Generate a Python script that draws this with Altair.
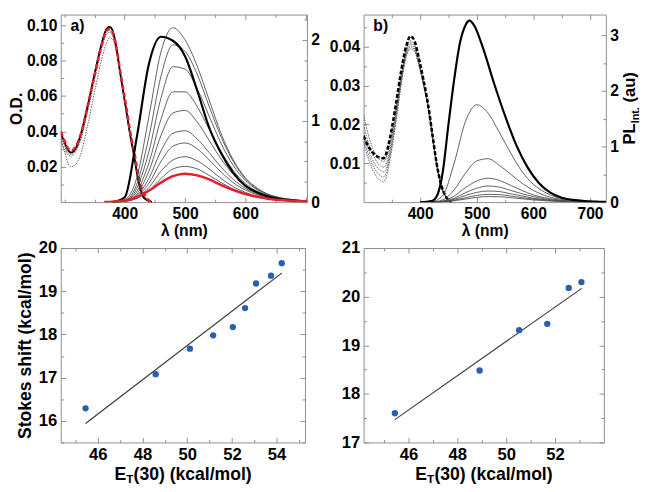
import altair as alt
import pandas as pd

FONT = "Liberation Sans"
FRAME = "#8c8c8c"
GREY = "#4d4d4d"
RED = "#e4202c"
BLUE = "#2b5fad"

# ---------------- panel a) absorption (O.D.) ----------------
a_abs_nm = [294, 300, 305, 311, 318, 326, 339, 351, 362, 370, 375, 380, 386, 393, 402, 409, 416, 421, 426, 433, 445]
a_abs_red = [0.040, 0.035, 0.031, 0.029, 0.031, 0.037, 0.055, 0.073, 0.089, 0.097, 0.098, 0.096, 0.088, 0.073, 0.055, 0.040, 0.028, 0.018, 0.010, 0.004, 0.000]
a_abs_black = [0.039, 0.034, 0.030, 0.028, 0.030, 0.037, 0.055, 0.074, 0.090, 0.098, 0.099, 0.097, 0.088, 0.072, 0.053, 0.038, 0.025, 0.015, 0.007, 0.002, 0.000]
a_abs_thin = [
    [0.036, 0.032, 0.028, 0.027, 0.029, 0.035, 0.053, 0.072, 0.088, 0.096, 0.097, 0.095, 0.087, 0.072, 0.054, 0.039, 0.027, 0.017, 0.009, 0.003, 0.000],
    [0.034, 0.030, 0.027, 0.026, 0.028, 0.034, 0.052, 0.071, 0.087, 0.095, 0.096, 0.094, 0.086, 0.071, 0.053, 0.038, 0.026, 0.016, 0.008, 0.003, 0.000],
    [0.036, 0.029, 0.023, 0.020, 0.021, 0.026, 0.044, 0.064, 0.081, 0.090, 0.093, 0.092, 0.085, 0.071, 0.053, 0.038, 0.026, 0.016, 0.008, 0.003, 0.000],
]

# ---------------- panel a) emission (PL) ----------------
a_pl_nm = [380, 400, 420, 440, 460, 480, 500, 520, 540, 560, 580, 600, 620, 640, 660, 680, 702]
a_pl_black = [0.0, 0.06, 0.80, 1.70, 2.04, 1.99, 1.80, 1.38, 0.92, 0.60, 0.36, 0.20, 0.12, 0.065, 0.035, 0.02, 0.01]
a_pl_thin = [
    [0.0, 0.03, 0.30, 1.05, 1.85, 2.15, 2.00, 1.68, 1.26, 0.84, 0.52, 0.30, 0.17, 0.09, 0.05, 0.03, 0.015],
    [0.0, 0.02, 0.22, 0.80, 1.55, 1.94, 1.86, 1.58, 1.18, 0.80, 0.50, 0.29, 0.16, 0.09, 0.05, 0.03, 0.015],
    [0.0, 0.02, 0.17, 0.62, 1.28, 1.67, 1.64, 1.40, 1.06, 0.72, 0.45, 0.27, 0.15, 0.08, 0.045, 0.025, 0.015],
    [0.0, 0.015, 0.13, 0.48, 1.02, 1.36, 1.36, 1.18, 0.90, 0.62, 0.39, 0.23, 0.13, 0.07, 0.04, 0.02, 0.012],
    [0.0, 0.012, 0.10, 0.38, 0.82, 1.10, 1.13, 0.99, 0.76, 0.53, 0.34, 0.20, 0.11, 0.065, 0.035, 0.02, 0.01],
    [0.0, 0.01, 0.08, 0.29, 0.63, 0.85, 0.88, 0.78, 0.61, 0.43, 0.28, 0.17, 0.10, 0.055, 0.03, 0.017, 0.01],
    [0.0, 0.01, 0.07, 0.23, 0.50, 0.69, 0.73, 0.66, 0.52, 0.37, 0.24, 0.15, 0.09, 0.05, 0.03, 0.016, 0.009],
    [0.0, 0.01, 0.055, 0.18, 0.38, 0.52, 0.56, 0.51, 0.41, 0.29, 0.19, 0.12, 0.07, 0.04, 0.025, 0.014, 0.008],
    [0.0, 0.01, 0.045, 0.14, 0.29, 0.41, 0.44, 0.41, 0.33, 0.24, 0.16, 0.10, 0.06, 0.035, 0.02, 0.012, 0.007],
]
a_pl_red_nm = [366, 380, 400, 420, 440, 460, 480, 500, 520, 540, 560, 580, 600, 620, 640, 660, 680, 702]
a_pl_red = [0.0, 0.005, 0.02, 0.06, 0.14, 0.24, 0.32, 0.35, 0.33, 0.28, 0.21, 0.15, 0.10, 0.065, 0.04, 0.025, 0.015, 0.01]

# ---------------- panel b) absorption ----------------
b_abs_nm = [300, 310, 320, 330, 335, 340, 347, 357, 366, 375, 383, 390, 397, 405, 414, 422, 429, 437, 445, 455]
b_abs_main = [0.0170, 0.0140, 0.0122, 0.0114, 0.0113, 0.0125, 0.0168, 0.0251, 0.0334, 0.0400, 0.0427, 0.0415, 0.0375, 0.0320, 0.0251, 0.0170, 0.0100, 0.0045, 0.0015, 0.0]
b_abs_thin = [
    [0.0226, 0.0165, 0.0127, 0.0108, 0.0105, 0.0113, 0.0155, 0.0240, 0.0325, 0.0392, 0.0415, 0.0405, 0.0368, 0.0315, 0.0248, 0.0168, 0.0098, 0.0044, 0.0015, 0.0],
    [0.0200, 0.0145, 0.0112, 0.0093, 0.0090, 0.0098, 0.0142, 0.0228, 0.0316, 0.0386, 0.0410, 0.0400, 0.0364, 0.0312, 0.0246, 0.0167, 0.0098, 0.0044, 0.0015, 0.0],
    [0.0180, 0.0130, 0.0098, 0.0081, 0.0078, 0.0087, 0.0132, 0.0220, 0.0310, 0.0382, 0.0405, 0.0396, 0.0361, 0.0310, 0.0244, 0.0166, 0.0097, 0.0043, 0.0014, 0.0],
    [0.0165, 0.0117, 0.0085, 0.0068, 0.0065, 0.0075, 0.0122, 0.0212, 0.0304, 0.0377, 0.0400, 0.0392, 0.0358, 0.0308, 0.0243, 0.0165, 0.0097, 0.0043, 0.0014, 0.0],
    [0.0155, 0.0105, 0.0072, 0.0055, 0.0052, 0.0063, 0.0112, 0.0204, 0.0298, 0.0372, 0.0395, 0.0388, 0.0355, 0.0306, 0.0242, 0.0165, 0.0097, 0.0043, 0.0014, 0.0],
]

# ---------------- panel b) emission ----------------
b_pl_nm = [400, 420, 430, 440, 450, 460, 470, 480, 487, 495, 510, 530, 550, 570, 590, 610, 630, 650, 670, 690, 710, 728]
b_pl_black = [0.0, 0.02, 0.12, 0.55, 1.40, 2.20, 2.85, 3.18, 3.26, 3.18, 2.80, 2.15, 1.55, 1.02, 0.62, 0.34, 0.17, 0.08, 0.04, 0.02, 0.01, 0.005]
b_pl_thin_nm = [420, 440, 460, 480, 500, 520, 540, 560, 580, 600, 620, 640, 660, 680, 700, 728]
b_pl_thin = [
    [0.0, 0.12, 0.70, 1.45, 1.75, 1.60, 1.25, 0.88, 0.55, 0.32, 0.18, 0.09, 0.05, 0.025, 0.012, 0.005],
    [0.0, 0.04, 0.22, 0.52, 0.74, 0.78, 0.66, 0.50, 0.34, 0.21, 0.12, 0.065, 0.035, 0.018, 0.009, 0.004],
    [0.0, 0.02, 0.11, 0.26, 0.38, 0.43, 0.39, 0.30, 0.21, 0.13, 0.08, 0.045, 0.025, 0.013, 0.007, 0.003],
    [0.0, 0.015, 0.07, 0.17, 0.25, 0.29, 0.27, 0.21, 0.15, 0.10, 0.06, 0.035, 0.02, 0.01, 0.006, 0.003],
    [0.0, 0.01, 0.05, 0.12, 0.175, 0.20, 0.19, 0.15, 0.11, 0.07, 0.045, 0.027, 0.015, 0.008, 0.005, 0.002],
    [0.0, 0.008, 0.035, 0.08, 0.12, 0.14, 0.135, 0.11, 0.08, 0.055, 0.035, 0.02, 0.012, 0.007, 0.004, 0.002],
    [0.0, 0.005, 0.025, 0.055, 0.085, 0.10, 0.097, 0.08, 0.06, 0.04, 0.026, 0.015, 0.009, 0.005, 0.003, 0.002],
]

# ---------------- Stokes shift vs ET(30) ----------------
c_et = [45.45, 48.59, 50.12, 51.16, 52.04, 52.59, 53.08, 53.75, 54.23]
c_ss = [16.29, 17.08, 17.67, 17.98, 18.17, 18.61, 19.18, 19.36, 19.65]
c_fit_et = [45.45, 54.23]
c_fit_ss = [15.94, 19.42]
d_et = [45.44, 48.91, 50.53, 51.68, 52.56, 53.08]
d_ss = [17.60, 18.48, 19.31, 19.44, 20.18, 20.30]
d_fit_et = [45.44, 53.09]
d_fit_ss = [17.47, 20.17]

# tick values
a_x_major = [400, 500, 600, 700]
a_x_minor = [300, 350, 450, 550, 650]
a_abs_major = [0.02, 0.04, 0.06, 0.08, 0.10]
a_abs_minor = [0.01, 0.03, 0.05, 0.07, 0.09]
a_pl_major = [0, 1, 2]
a_pl_minor = [0.25, 0.5, 0.75, 1.25, 1.5, 1.75, 2.25]
b_x_major = [400, 500, 600, 700]
b_x_minor = [350, 450, 550, 650]
b_abs_major = [0.01, 0.02, 0.03, 0.04]
b_abs_minor = [0.005, 0.015, 0.025, 0.035, 0.045]
b_pl_major = [0, 1, 2, 3]
b_pl_minor = [0.5, 1.5, 2.5]
c_x_major = [46, 48, 50, 52, 54]
c_x_minor = [45, 47, 49, 51, 53, 55]
c_y_major = [16, 17, 18, 19, 20]
c_y_minor = [15.5, 16.5, 17.5, 18.5, 19.5]
d_x_major = [46, 48, 50, 52]
d_x_minor = [45, 47, 49, 51, 53]
d_y_major = [17, 18, 19, 20, 21]
d_y_minor = [17.5, 18.5, 19.5, 20.5]

# domains
A_X = [294, 702]; A_ABS = [0, 0.106]; A_PL = [0, 2.313]
B_X = [300, 728]; B_ABS = [0, 0.0483]; B_PL = [0, 3.37]
C_X = [44.34, 55.27]; C_Y = [15.5, 20]
D_X = [44.16, 54.0]; D_Y = [17, 21]


def long_df(nm, series):
    rows = []
    for i, vals in enumerate(series):
        for x, v in zip(nm, vals):
            rows.append({"x": x, "y": v, "k": i})
    return pd.DataFrame(rows)


def sc(dom):
    return alt.Scale(domain=dom, nice=False, zero=False)


def lab_axis(orient, values, size, fmt=None, title=None, tsize=16, tpad=2):
    d = dict(orient=orient, values=values, ticks=False, tickSize=0, domain=False, grid=False,
             labelFontSize=size, labelFont=FONT, labelFontWeight="bold", labelColor="black",
             labelPadding=4, title=title, titleFont=FONT, titleFontSize=tsize,
             titleFontWeight="bold", titleColor="black", titlePadding=tpad)
    if fmt:
        d["format"] = fmt
    return alt.Axis(**d)


def lines(df, xdom, ydom, color, width, dash=None, xaxis=None, yaxis=None):
    mk = dict(color=color, strokeWidth=width, interpolate="monotone", clip=True)
    if dash:
        mk["strokeDash"] = dash
    return alt.Chart(df).mark_line(**mk).encode(
        x=alt.X("x:Q", scale=sc(xdom), axis=xaxis),
        y=alt.Y("y:Q", scale=sc(ydom), axis=yaxis),
        detail="k:N")


def tick_layer(xdom, ydom, xvals, yvals, size, xo, yo):
    df = pd.DataFrame({"x": [xdom[0]], "y": [ydom[0]]})

    def ax(o, vals):
        return alt.Axis(orient=o, values=vals, labels=False, domain=False, grid=False, title=None,
                        tickSize=size, tickColor=FRAME, tickWidth=1, offset=-size)
    return alt.Chart(df).mark_point(opacity=0).encode(
        x=alt.X("x:Q", scale=sc(xdom), axis=ax(xo, xvals)),
        y=alt.Y("y:Q", scale=sc(ydom), axis=ax(yo, yvals)))


def text_layer(s, x, y, size, angle=0):
    mk = dict(align="left", baseline="alphabetic", fontSize=size, font=FONT,
              fontWeight="bold", color="black")
    if angle:
        mk["angle"] = angle
    return alt.Chart(pd.DataFrame({"t": [s]})).mark_text(**mk).encode(
        text="t:N", x=alt.value(x), y=alt.value(y))


def four_ticks(xdom, ydl, ydr, xM, xm, ylM, ylm, yrM, yrm):
    return [
        tick_layer(xdom, ydl, xM, ylM, 5, "bottom", "left"),
        tick_layer(xdom, ydl, xm, ylm, 3, "bottom", "left"),
        tick_layer(xdom, ydr, xM, yrM, 5, "top", "right"),
        tick_layer(xdom, ydr, xm, yrm, 3, "top", "right"),
    ]


def finish(layers, w, h):
    return alt.layer(*layers).resolve_scale(x="independent", y="independent").resolve_axis(
        x="independent", y="independent").properties(width=w, height=h)


# ---------- panel a ----------
AW, AH = 252, 192
pa_layers = [
    lines(long_df(a_abs_nm, a_abs_thin), A_X, A_ABS, GREY, 0.9, dash=[1.5, 1.2]),
    lines(long_df(a_abs_nm, [a_abs_black]), A_X, A_ABS, "black", 1.8),
    lines(long_df(a_abs_nm, [a_abs_red]), A_X, A_ABS, RED, 2.6, dash=[5, 3],
          xaxis=lab_axis("bottom", [400, 500, 600], 16, title="λ (nm)", tsize=16, tpad=1),
          yaxis=lab_axis("left", a_abs_major, 16, fmt=".2f", title="O.D.", tsize=16, tpad=2)),
    lines(long_df(a_pl_nm, a_pl_thin), A_X, A_PL, GREY, 0.9),
    lines(long_df(a_pl_nm, [a_pl_black]), A_X, A_PL, "black", 2.2),
    lines(long_df(a_pl_red_nm, [a_pl_red]), A_X, A_PL, RED, 2.6,
          yaxis=lab_axis("right", a_pl_major, 16)),
] + four_ticks(A_X, A_ABS, A_PL, a_x_major, a_x_minor, a_abs_major, a_abs_minor, a_pl_major, a_pl_minor) + [
    text_layer("a)", 10, 17, 16),
]
pa = finish(pa_layers, AW, AH)

# ---------- panel b ----------
BW, BH = 248, 192
pb_layers = [
    lines(long_df(b_abs_nm, b_abs_thin), B_X, B_ABS, GREY, 0.9, dash=[1.5, 1.2]),
    lines(long_df(b_abs_nm, [b_abs_main]), B_X, B_ABS, "black", 2.6, dash=[4, 2],
          xaxis=lab_axis("bottom", b_x_major, 16, title="λ (nm)", tsize=16, tpad=1),
          yaxis=lab_axis("left", b_abs_major, 16, fmt=".2f")),
    lines(long_df(b_pl_thin_nm, b_pl_thin), B_X, B_PL, GREY, 0.9),
    lines(long_df(b_pl_nm, [b_pl_black]), B_X, B_PL, "black", 2.2,
          yaxis=lab_axis("right", b_pl_major, 16)),
] + four_ticks(B_X, B_ABS, B_PL, b_x_major, b_x_minor, b_abs_major, b_abs_minor, b_pl_major, b_pl_minor) + [
    text_layer("b)", 10, 17, 16),
    text_layer("PL", BW + 30, BH / 2 + 37, 17, angle=270),
    text_layer("Int.", BW + 34, BH / 2 + 15.3, 11, angle=270),
    text_layer("(au)", BW + 30, BH / 2 - 5.9, 17, angle=270),
]
pb = finish(pb_layers, BW, BH)


# ---------- scatter panels ----------
def scatter_panel(et, ss, fx, fy, xdom, ydom, xM, xm, yM, ym, w, h, ytitle):
    pts = alt.Chart(pd.DataFrame({"x": et, "y": ss})).mark_circle(size=42, color=BLUE, opacity=1).encode(
        x=alt.X("x:Q", scale=sc(xdom), axis=lab_axis("bottom", xM, 17)),
        y=alt.Y("y:Q", scale=sc(ydom), axis=lab_axis("left", yM, 17, title=ytitle, tsize=18, tpad=4)))
    fit = alt.Chart(pd.DataFrame({"x": fx, "y": fy})).mark_line(color="#3a3a3a", strokeWidth=1.2).encode(
        x=alt.X("x:Q", scale=sc(xdom), axis=None),
        y=alt.Y("y:Q", scale=sc(ydom), axis=None))
    x0 = w / 2 - 70
    layers = [fit, pts] + four_ticks(xdom, ydom, ydom, xM, xm, yM, ym, yM, ym) + [
        text_layer("E", x0, h + 38, 18),
        text_layer("T", x0 + 12, h + 42, 12),
        text_layer("(30) (kcal/mol)", x0 + 19.5, h + 38, 18),
    ]
    return finish(layers, w, h)


pc = scatter_panel(c_et, c_ss, c_fit_et, c_fit_ss, C_X, C_Y, c_x_major, c_x_minor, c_y_major, c_y_minor,
                   250, 199, "Stokes shift (kcal/mol)")
pd_ = scatter_panel(d_et, d_ss, d_fit_et, d_fit_ss, D_X, D_Y, d_x_major, d_x_minor, d_y_major, d_y_minor,
                    246, 199, None)

chart = alt.concat(pa, pb, pc, pd_, columns=2, spacing={"row": 47, "column": 58}, bounds="flush").properties(
    padding=0, background="white"
).configure_view(stroke=FRAME, strokeWidth=1)

chart.save("out.html", embed_options={"renderer": "svg", "actions": False})
